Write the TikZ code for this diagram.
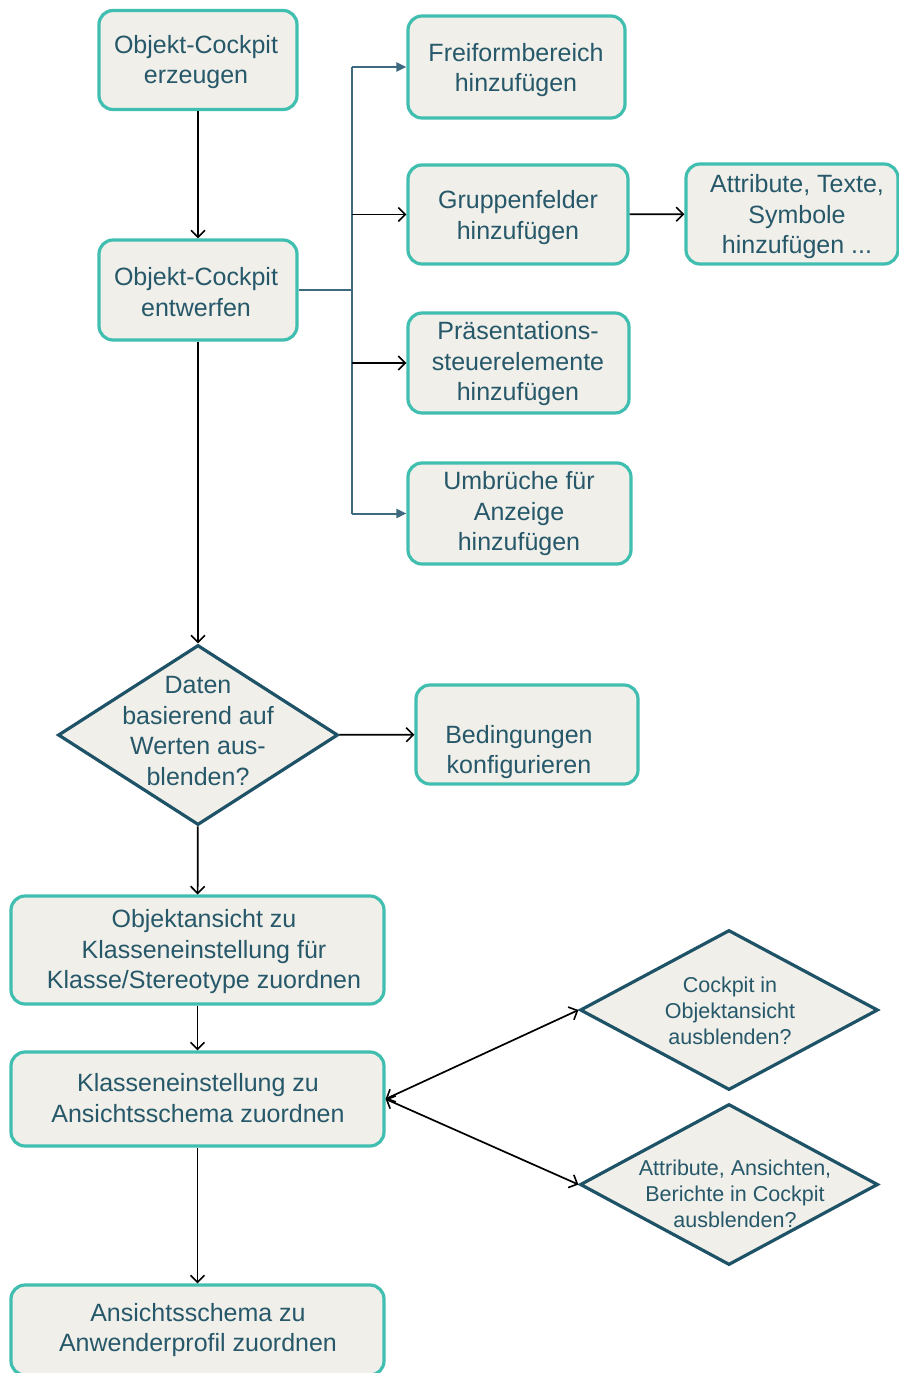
\documentclass[tikz,border=0pt]{standalone}
\usepackage{fontspec}
\setmainfont{Liberation Sans}
\usetikzlibrary{shapes.geometric,arrows.meta}
\definecolor{boxline}{RGB}{64,190,176}
\definecolor{boxfill}{RGB}{240,239,233}
\definecolor{txt}{RGB}{38,88,106}
\definecolor{dialine}{RGB}{30,82,102}
\definecolor{branch}{RGB}{62,106,128}
\begin{document}
\begin{tikzpicture}[x=1pt,y=-1pt,
  box/.style={draw=boxline, line width=3.2pt, fill=boxfill, rounded corners=14pt, inner sep=0pt},
  dia/.style={draw=dialine, line width=3.2pt, fill=boxfill, diamond, inner sep=0pt},
  btext/.style={text=txt, align=center, font=\fontsize{25}{30.5}\selectfont, inner sep=0pt},
  stext/.style={text=txt, align=center, font=\fontsize{21.5}{26}\selectfont, inner sep=0pt},
  conn/.style={draw=black, line width=1.7pt, -{Straight Barb[length=7pt,width=14pt,line width=1.6pt]}},
  biconn/.style={draw=black, line width=1.7pt, {Straight Barb[length=7pt,width=14pt,line width=1.6pt]}-{Straight Barb[length=7pt,width=14pt,line width=1.6pt]}},
  bline/.style={draw=branch, line width=2pt},
  btip/.style={draw=branch, line width=2pt, -{Triangle[length=10pt,width=9pt]}},
]
\useasboundingbox (0,0) rectangle (898,1373);

% boxes
\node[box, minimum width=198pt, minimum height=99pt] (b1) at (198,60) {};
\node[btext] (t1) at (196,62) {Objekt-Cockpit\\erzeugen};
\node[box, minimum width=198pt, minimum height=100pt] (b2) at (198,290) {};
\node[btext] (t2) at (196,292) {Objekt-Cockpit\\entwerfen};
\node[box, minimum width=217pt, minimum height=102pt] (b3) at (516.5,67) {};
\node[btext] (t3) at (516,70) {Freiformbereich\\hinzufügen};
\node[box, minimum width=220pt, minimum height=99pt] (b4) at (518,214.5) {};
\node[btext] (t4) at (518,217.5) {Gruppenfelder\\hinzufügen};
\node[box, minimum width=212pt, minimum height=100pt] (b5) at (792,214) {};
\node[btext] (t5) at (797,217) {Attribute, Texte,\\Symbole\\hinzufügen ...};
\node[box, minimum width=221pt, minimum height=100pt] (b6) at (518.5,363) {};
\node[btext] (t6) at (518,364) {Präsentations-\\steuerelemente\\hinzufügen};
\node[box, minimum width=223pt, minimum height=101pt] (b7) at (519.5,513.5) {};
\node[btext] (t7) at (519,514) {Umbrüche für\\Anzeige\\hinzufügen};
\node[box, minimum width=222pt, minimum height=99pt] (b9) at (527,734.5) {};
\node[btext] (t9) at (519,752) {Bedingungen\\konfigurieren};
\node[box, minimum width=373pt, minimum height=108pt] (b10) at (197.5,950) {};
\node[btext] (t10) at (204,952) {Objektansicht zu\\Klasseneinstellung für\\Klasse/Stereotype zuordnen};
\node[box, minimum width=373pt, minimum height=94pt] (b11) at (197.5,1099) {};
\node[btext] (t11) at (198,1098) {Klasseneinstellung zu\\Ansichtsschema zuordnen};
\node[box, minimum width=373pt, minimum height=90pt] (b14) at (197.5,1330) {};
\node[btext] (t14) at (198,1330) {Ansichtsschema zu\\Anwenderprofil zuordnen};

% diamonds
\node[dia, minimum width=280pt, minimum height=180pt] (d8) at (198,735) {};
\node[btext] (t8) at (198,731) {Daten\\basierend auf\\Werten aus-\\blenden?};
\node[dia, minimum width=298pt, minimum height=160pt] (d12) at (729,1010) {};
\node[stext] (t12) at (730,1011) {Cockpit in\\Objektansicht\\ausblenden?};
\node[dia, minimum width=298pt, minimum height=161pt] (d13) at (729,1184.5) {};
\node[stext] (t13) at (735,1194) {Attribute, Ansichten,\\Berichte in Cockpit\\ausblenden?};

% branch spine
\coordinate (spine) at (352,0);
\draw[bline] (b2.east) -- (b2.east -| spine);
\draw[bline] (b3.west -| spine) -- (b7.west -| spine);
\draw[btip] (b3.west -| spine) -- (b3.west);
\draw[btip] (b7.west -| spine) -- (b7.west);
\draw[conn] (b4.west -| spine) -- (b4.west);
\draw[conn] (b6.west -| spine) -- (b6.west);

% connectors
\draw[conn] (b1) -- (b2);
\draw[conn] (b4) -- (b5);
\draw[conn] (b2) -- (d8);
\draw[conn] (d8) -- (b9);
\draw[conn] (d8) -- (b10);
\draw[conn] (b10) -- (b11);
\draw[conn] (b11) -- (b14);
\draw[biconn] (b11.east) -- (d12.west);
\draw[biconn] (b11.east) -- (d13.west);
\end{tikzpicture}
\end{document}
